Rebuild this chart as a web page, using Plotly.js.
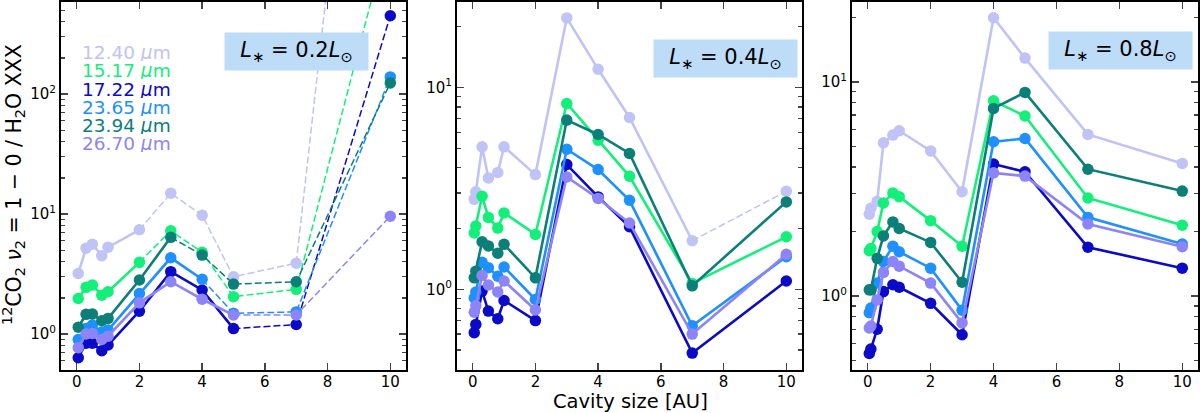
<!DOCTYPE html>
<html>
<head>
<meta charset="utf-8">
<script src="https://cdn.plot.ly/plotly-3.0.1.min.js"></script>
<style>
  html, body { margin: 0; padding: 0; background: #fff; }
  #plot { width: 1200px; height: 413px; }
</style>
</head>
<body>
<div id="plot"></div>
<script>
// wavelengths (legend) and colours
var lines_um = ["12.40", "15.17", "17.22", "23.65", "23.94", "26.70"];
var colors = ["#c0c3f5", "#12f07a", "#0a0ac8", "#1e90ff", "#0b7f78", "#8d85f7"];

// cavity sizes [AU]
var cav_02 = [0.05, 0.3, 0.5, 0.8, 1, 2, 3, 4, 5, 7, 10];
var cav = [0.05, 0.1, 0.3, 0.5, 0.8, 1, 2, 3, 4, 5, 7, 10];

// L* = 0.2 Lsun
var p1_1240 = [3.2, 5.2, 5.6, 4.5, 5.3, 7.4, 14.9, 9.8, 3.0, 3.9, 4e7];
var p1_1517 = [1.98, 2.45, 2.56, 2.11, 2.25, 3.96, 7.26, 4.8, 2.05, 2.36, 2450];
var p1_1722 = [0.635, 0.84, 0.84, 0.726, 0.81, 1.55, 3.31, 2.33, 1.11, 1.2, 450];
var p1_2365 = [0.90, 1.11, 1.19, 1.04, 1.08, 2.18, 4.32, 2.86, 1.49, 1.53, 139];
var p1_2394 = [1.14, 1.46, 1.47, 1.29, 1.35, 2.82, 6.4, 4.55, 2.61, 2.73, 124];
var p1_2670 = [0.77, 1.0, 1.01, 0.90, 0.96, 1.82, 2.73, 1.95, 1.44, 1.44, 9.6];
var p1_dashfrom = [5, 5, 8, 7, 6, 8];   // index where the dashed part starts

// L* = 0.4 Lsun
var p2_1240 = [2.79, 3.04, 5.08, 3.56, 3.79, 5.08, 3.7, 22.1, 12.3, 7.1, 1.74, 3.06];
var p2_1517 = [1.90, 2.06, 2.89, 2.27, 2.01, 2.39, 1.87, 8.33, 5.48, 3.63, 1.07, 1.82];
var p2_1722 = [0.61, 0.67, 0.98, 0.78, 0.715, 0.88, 0.70, 4.15, 2.87, 2.04, 0.483, 1.10];
var p2_2365 = [0.906, 0.97, 1.36, 1.28, 1.16, 1.29, 0.89, 4.94, 3.92, 2.76, 0.66, 1.45];
var p2_2394 = [1.14, 1.23, 1.72, 1.64, 1.51, 1.67, 1.14, 6.89, 5.85, 4.71, 1.04, 2.71];
var p2_2670 = [0.77, 0.83, 1.17, 1.05, 0.97, 1.10, 0.79, 3.6, 2.82, 2.13, 0.60, 1.49];
var p2_dashfrom = [10, 11, 11, 11, 11, 11];

// L* = 0.8 Lsun
var p3_1240 = [2.41, 2.57, 2.77, 5.19, 5.64, 5.91, 4.76, 3.07, 19.9, 12.9, 5.68, 4.16];
var p3_1517 = [1.63, 1.67, 2.0, 2.72, 3.03, 2.91, 2.25, 1.71, 8.15, 6.92, 2.87, 2.14];
var p3_1722 = [0.54, 0.566, 0.70, 1.05, 1.13, 1.10, 0.925, 0.66, 4.13, 3.8, 1.69, 1.35];
var p3_2365 = [0.836, 0.88, 1.15, 1.45, 1.71, 1.61, 1.35, 0.86, 5.25, 5.44, 2.33, 1.75];
var p3_2394 = [1.07, 1.07, 1.5, 1.91, 2.22, 2.07, 1.78, 1.16, 7.51, 8.92, 3.91, 3.09];
var p3_2670 = [0.71, 0.725, 0.96, 1.29, 1.45, 1.38, 1.15, 0.75, 3.76, 3.63, 2.17, 1.70];
var p3_dashfrom = [11, 11, 11, 11, 11, 11];

var lum_labels = ["0.2", "0.4", "0.8"];

var panels = [
  {x: cav_02, ys: [p1_1240, p1_1517, p1_1722, p1_2365, p1_2394, p1_2670], dash: p1_dashfrom},
  {x: cav, ys: [p2_1240, p2_1517, p2_1722, p2_2365, p2_2394, p2_2670], dash: p2_dashfrom},
  {x: cav, ys: [p3_1240, p3_1517, p3_1722, p3_2365, p3_2394, p3_2670], dash: p3_dashfrom}
];

var traces = [];
panels.forEach(function(p, pi) {
  var xa = pi == 0 ? "x" : "x" + (pi + 1);
  var ya = pi == 0 ? "y" : "y" + (pi + 1);
  p.ys.forEach(function(y, si) {
    var k = p.dash[si];
    traces.push({
      x: p.x.slice(0, k + 1), y: y.slice(0, k + 1), xaxis: xa, yaxis: ya,
      mode: "lines", line: {color: colors[si], width: 2.6}, hoverinfo: "skip"
    });
    if (k < p.x.length - 1) {
      traces.push({
        x: p.x.slice(k), y: y.slice(k), xaxis: xa, yaxis: ya,
        mode: "lines", line: {color: colors[si], width: 1.5, dash: "7px,3px"}, hoverinfo: "skip"
      });
    }
    traces.push({
      x: p.x, y: y, xaxis: xa, yaxis: ya,
      mode: "markers", marker: {color: colors[si], size: 11.5, line: {width: 0}}
    });
  });
});

var minorVals = [];
for (var d = 0.1; d < 1000; d *= 10) {
  for (var m = 2; m <= 9; m++) minorVals.push(+(m * d).toPrecision(3));
}

function xax(dom) {
  return {
    domain: dom, range: [-0.5, 10.5], tickvals: [0, 2, 4, 6, 8, 10],
    ticks: "inside", ticklen: 7, tickwidth: 1.5, mirror: "allticks", ticklabelstandoff: -3,
    showline: true, linewidth: 2, linecolor: "#000", showgrid: false, zeroline: false,
    tickfont: {family: "DejaVu Sans", size: 15, color: "#000"}
  };
}
function yax(rng, vals, txt) {
  return {
    type: "log", domain: [0.104, 0.995], range: rng, tickvals: vals, ticktext: txt,
    ticks: "inside", ticklen: 7, tickwidth: 1.5, mirror: "allticks",
    minor: {tickmode: "array", tickvals: minorVals, ticks: "inside", ticklen: 4, tickwidth: 1.2, showgrid: false},
    showline: true, linewidth: 2, linecolor: "#000", showgrid: false, zeroline: false,
    tickfont: {family: "DejaVu Sans", size: 15, color: "#000"}
  };
}

var annotations = [];
lines_um.forEach(function(l, i) {
  annotations.push({
    xref: "paper", yref: "paper", x: 81 / 1200, y: 1 - (52 + i * 18.3) / 413,
    xanchor: "left", yanchor: "middle", showarrow: false, height: 18, borderpad: 0,
    text: l + " <i>μ</i>m", font: {family: "DejaVu Sans", size: 18.5, color: colors[i]}
  });
});
var boxes = [[296.5, 51.7], [725, 58], [1120.5, 50.5]];
lum_labels.forEach(function(l, i) {
  annotations.push({
    xref: "paper", yref: "paper", x: boxes[i][0] / 1200, y: 1 - boxes[i][1] / 413,
    xanchor: "center", yanchor: "middle", showarrow: false, width: 141, height: 35,
    bgcolor: "#bcdcf8", text: "<i>L</i><sub>∗</sub> = " + l + "<i>L</i><sub>⊙</sub>",
    font: {family: "DejaVu Sans", size: 21, color: "#000"}
  });
});
annotations.push({
  xref: "paper", yref: "paper", x: 630 / 1200, y: 1 - 401.5 / 413,
  xanchor: "center", yanchor: "middle", showarrow: false, height: 21, borderpad: 0,
  text: "Cavity size [AU]", font: {family: "DejaVu Sans", size: 19.5, color: "#000"}
});
annotations.push({
  xref: "paper", yref: "paper", x: 13 / 1200, y: 1 - 185 / 413,
  xanchor: "center", yanchor: "middle", showarrow: false, textangle: -90,
  text: "<sup>12</sup>CO<sub>2</sub> <i>ν</i><sub>2</sub> = 1 − 0 / H<sub>2</sub>O XXX",
  font: {family: "DejaVu Sans", size: 20.5, color: "#000"}
});

var layout = {
  width: 1200, height: 413, margin: {l: 0, r: 0, t: 0, b: 0},
  paper_bgcolor: "#fff", plot_bgcolor: "#fff", showlegend: false,
  xaxis: xax([61 / 1200, 406 / 1200]),
  xaxis2: xax([457 / 1200, 802 / 1200]),
  xaxis3: xax([852 / 1200, 1198 / 1200]),
  yaxis: yax([-0.3, 2.767], [1, 10, 100], ["10<sup>0</sup>", "10<sup>1</sup>", "10<sup>2</sup>"]),
  yaxis2: yax([-0.40, 1.423], [1, 10], ["10<sup>0</sup>", "10<sup>1</sup>"]),
  yaxis3: yax([-0.345, 1.372], [1, 10], ["10<sup>0</sup>", "10<sup>1</sup>"]),
  annotations: annotations
};
layout.yaxis2.anchor = "x2";
layout.yaxis3.anchor = "x3";
layout.xaxis2.anchor = "y2";
layout.xaxis3.anchor = "y3";

Plotly.newPlot("plot", traces, layout, {staticPlot: true});
</script>
</body>
</html>
